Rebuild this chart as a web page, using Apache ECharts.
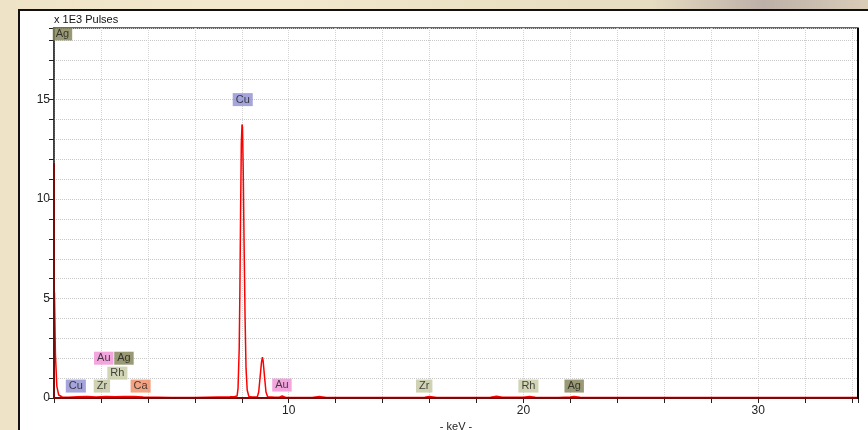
<!DOCTYPE html>
<html>
<head>
<meta charset="utf-8">
<script src="https://cdn.jsdelivr.net/npm/echarts@6/dist/echarts.min.js"></script>
<style>
html,body{margin:0;padding:0;width:868px;height:430px;overflow:hidden;}
body{background:linear-gradient(90deg,#eee3c6 0%,#f2e9cf 30%,#ebe1c3 55%,#e6dcc0 75%,#bdb0a8 88%,#d9cdb8 100%);}
#panel{position:absolute;left:18px;top:9px;width:900px;height:500px;background:#fff;border-left:2px solid #111;border-top:2px solid #111;}
#chart{position:absolute;left:0;top:0;width:868px;height:430px;}
</style>
</head>
<body>
<div id="panel"></div>
<div id="chart"></div>
<script>
// Spectrum (keV, x1000 pulses)
const specE = [0, 0.02, 0.06, 0.12, 0.2, 0.35, 0.6, 1.0, 1.4, 1.8, 2.2, 2.6, 3.0, 3.4, 3.8, 4.4, 5.0, 6.0, 7.0, 7.5, 7.7, 7.8, 7.84, 7.89, 7.92, 7.95, 7.98, 8.01, 8.03, 8.06, 8.10, 8.14, 8.18, 8.23, 8.30, 8.45, 8.66, 8.72, 8.78, 8.84, 8.88, 8.91, 8.97, 9.03, 9.10, 9.4, 9.6, 9.72, 9.85, 10.3, 11.0, 11.3, 11.6, 12.5, 14.0, 15.8, 16.0, 16.3, 17.5, 18.6, 18.85, 19.1, 20.0, 20.25, 20.5, 21.5, 22.0, 22.15, 22.4, 24.0, 28.0, 34.25];
const specV = [0, 5.3, 2.2, 0.6, 0.15, 0.05, 0.04, 0.06, 0.07, 0.05, 0.08, 0.06, 0.08, 0.07, 0.05, 0.04, 0.03, 0.03, 0.05, 0.06, 0.08, 0.1, 0.5, 2.5, 5.5, 9.5, 12.8, 13.75, 13.6, 11.5, 7.5, 4.0, 1.5, 0.4, 0.08, 0.05, 0.05, 0.3, 1.05, 1.8, 2.05, 1.85, 1.05, 0.3, 0.06, 0.04, 0.04, 0.1, 0.04, 0.03, 0.03, 0.07, 0.03, 0.02, 0.03, 0.04, 0.07, 0.03, 0.03, 0.04, 0.09, 0.04, 0.04, 0.08, 0.04, 0.03, 0.05, 0.08, 0.04, 0.02, 0.02, 0.02];
// Dark red trace (zero peak / baseline)
const baseE = [0, 0, 34.25];
const baseV = [11.8, 0, 0];
// Element line markers: name, energy (keV), height (x1000 pulses)
const markNames = ["Ag", "Cu", "Cu", "Zr", "Ca", "Rh", "Au", "Ag", "Au", "Zr", "Rh", "Ag"];
const markE =     [0.36, 8.04, 0.93, 2.04, 3.69, 2.70, 2.12, 2.98, 9.71, 15.77, 20.21, 22.16];
const markH =     [18.3, 15.0, 0.6, 0.6, 0.6, 1.25, 2.0, 2.0, 0.65, 0.6, 0.6, 0.6];
const xTickLabels = [10, 20, 30];
const yTickLabels = [0, 5, 10, 15];

const elemColor = {Ag:'#7f8152', Cu:'#8e8ed2', Zr:'#c3c7a0', Rh:'#c6c9a3', Au:'#f08fd6', Ca:'#f08c62'};

const chart = echarts.init(document.getElementById('chart'), null, {renderer:'canvas'});
const font = 'Liberation Sans, Arial, sans-serif';
const spec = specE.map((e,i)=>[e, specV[i]]);
const base = baseE.map((e,i)=>[e, baseV[i]]);
const marks = markNames.map((n,i)=>({
  value:[markE[i], markH[i]], name:n,
  label:{backgroundColor: elemColor[n]}
}));

chart.setOption({
  animation:false,
  grid:{left:54, right:10, top:28, bottom:32, outerBoundsMode:'none', containLabel:false, show:true, borderColor:'#333', borderWidth:1.5, backgroundColor:'transparent'},
  xAxis:{
    type:'value', min:0, max:34.25, interval:2,
    name:'- keV -', nameLocation:'middle', nameGap:21,
    nameTextStyle:{fontFamily:font, fontSize:11, color:'#222'},
    axisLine:{show:true, onZero:false, lineStyle:{color:'#7a0a0a', width:2}},
    axisTick:{show:true, length:5, lineStyle:{color:'#222'}},
    axisLabel:{fontFamily:font, fontSize:12, color:'#222', margin:7,
      formatter:v=> xTickLabels.includes(Math.round(v)) && Math.abs(v-Math.round(v))<1e-6 ? String(Math.round(v)) : ''},
    splitLine:{show:true, lineStyle:{color:'#d4d4d4', type:'dotted', width:1}}
  },
  yAxis:{
    type:'value', min:0, max:18.6, interval:1,
    name:'x 1E3 Pulses', nameLocation:'end', nameGap:3,
    nameTextStyle:{fontFamily:font, fontSize:11, color:'#111', align:'left'},
    axisLine:{show:true, lineStyle:{color:'#333', width:1.5}},
    axisTick:{show:true, length:5, lineStyle:{color:'#222'}},
    axisLabel:{fontFamily:font, fontSize:12, color:'#222', margin:4,
      formatter:v=> yTickLabels.includes(v) ? String(v) : ''},
    splitLine:{show:true, lineStyle:{color:'#c8c8c8', type:'dotted', width:1}}
  },
  series:[
    {type:'line', data:spec, showSymbol:false, symbol:'none', lineStyle:{color:'#ff0000', width:1.5}, z:3},
    {type:'line', data:base, showSymbol:false, symbol:'none', lineStyle:{color:'#7a0a0a', width:2}, z:4},
    {type:'scatter', data:marks, symbolSize:0, z:5,
      label:{show:true, position:'inside', formatter:p=>p.name, fontFamily:font, fontSize:11, color:'#1a1a1a', padding:[2,3,0,3]}}
  ],
  graphic:[
    {type:'rect', shape:{x:857, y:28, width:2, height:371}, style:{fill:'#000'}, z:10}
  ]
});
</script>
</body>
</html>
